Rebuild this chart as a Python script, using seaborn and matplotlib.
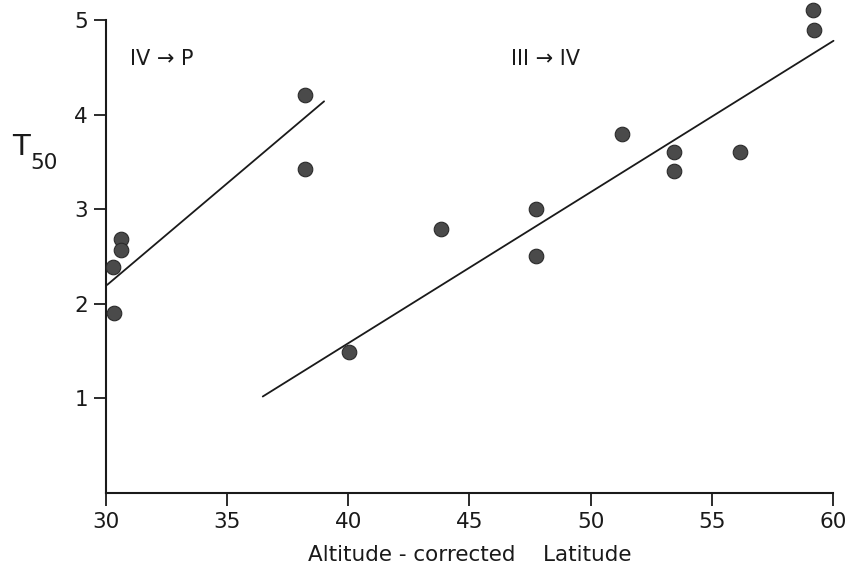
import matplotlib
matplotlib.use("Agg")
import matplotlib.pyplot as plt
import seaborn as sns
import pandas as pd

# Data
iv_p_lat = [30.30, 30.34, 30.60, 30.60, 38.21, 38.21]
iv_p_t50 = [2.39, 1.90, 2.68, 2.57, 4.21, 3.42]
iv_p_line_lat = [30.05, 39.0]
iv_p_line_t50 = [2.20, 4.14]

iii_iv_lat = [40.02, 43.81, 47.75, 47.75, 51.31, 53.42, 53.42, 56.18, 59.19, 59.23]
iii_iv_t50 = [1.49, 2.79, 3.00, 2.50, 3.79, 3.60, 3.40, 3.60, 5.11, 4.89]
iii_iv_line_lat = [36.47, 60.02]
iii_iv_line_t50 = [1.02, 4.78]

x_ticks = [30, 35, 40, 45, 50, 55, 60]
y_ticks = [1, 2, 3, 4, 5]

sns.set_theme(style="ticks")
plt.rcParams["font.family"] = ["DejaVu Sans"]

fig = plt.figure(figsize=(8.47, 5.74), dpi=100)
ax = fig.add_axes([0.1251, 0.1411, 0.8584, 0.8241])

ink = "#1a1a1a"
dot = "#4a4a4a"

pts1 = pd.DataFrame({"lat": iv_p_lat, "t50": iv_p_t50})
pts2 = pd.DataFrame({"lat": iii_iv_lat, "t50": iii_iv_t50})
ln1 = pd.DataFrame({"lat": iv_p_line_lat, "t50": iv_p_line_t50})
ln2 = pd.DataFrame({"lat": iii_iv_line_lat, "t50": iii_iv_line_t50})

sns.lineplot(data=ln1, x="lat", y="t50", ax=ax, color=ink, linewidth=1.3, clip_on=False)
sns.lineplot(data=ln2, x="lat", y="t50", ax=ax, color=ink, linewidth=1.3, clip_on=False)
sns.scatterplot(data=pts1, x="lat", y="t50", ax=ax, s=110, color=dot,
                edgecolor="#2a2a2a", linewidth=0.8, clip_on=False, zorder=3)
sns.scatterplot(data=pts2, x="lat", y="t50", ax=ax, s=110, color=dot,
                edgecolor="#2a2a2a", linewidth=0.8, clip_on=False, zorder=3)

ax.set_xlim(30, 60)
ax.set_ylim(0, 5)
ax.set_xticks(x_ticks)
ax.set_xticklabels([str(v) for v in x_ticks])
ax.set_yticks(y_ticks)
ax.set_yticklabels([str(v) for v in y_ticks])

sns.despine(ax=ax)
for s in ("left", "bottom"):
    ax.spines[s].set_linewidth(1.5)
    ax.spines[s].set_color(ink)

ax.tick_params(axis="x", direction="out", length=9, width=1.3, colors=ink,
               labelsize=15.5, pad=5)
ax.tick_params(axis="y", direction="out", length=9, width=1.3, colors=ink,
               labelsize=15.5, pad=4)

ax.set_xlabel("Altitude - corrected    Latitude", fontsize=15.5, color=ink, labelpad=9)
ax.set_ylabel("")

fig.text(0.014, 0.744, "T", fontsize=21, color=ink, ha="left", va="center")
fig.text(0.036, 0.716, "50", fontsize=15.5, color=ink, ha="left", va="center")

ax.text(31.0, 4.59, "IV → P", fontsize=15, color=ink, ha="left", va="center")
ax.text(46.7, 4.59, "III → IV", fontsize=15, color=ink, ha="left", va="center")

fig.savefig("out.png", dpi=100, facecolor="white")
